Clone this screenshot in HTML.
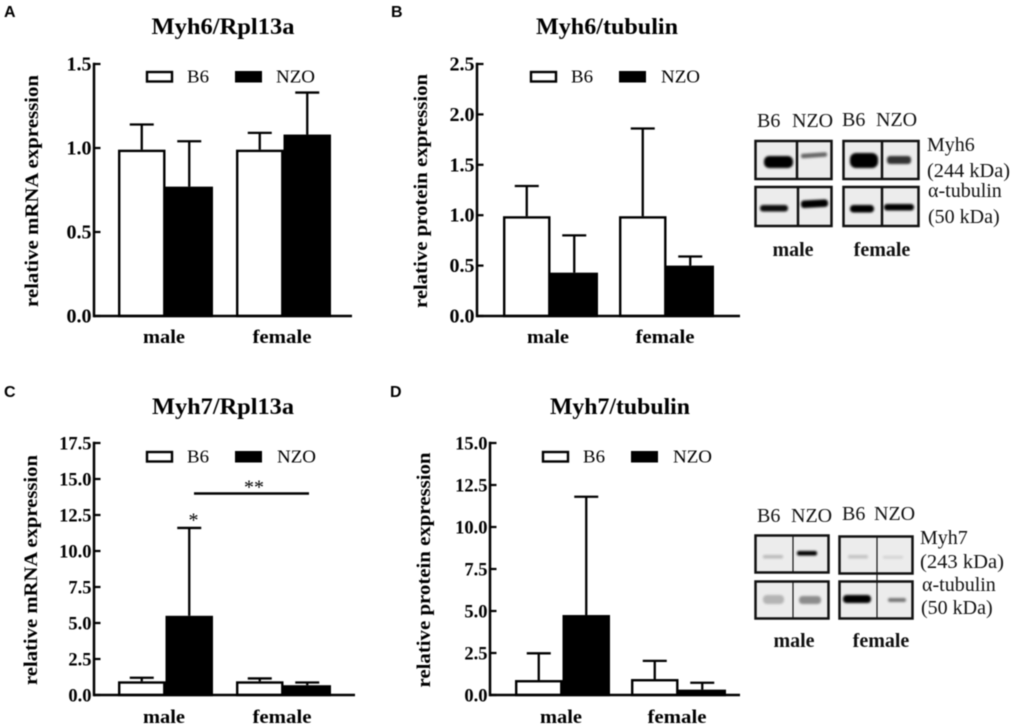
<!DOCTYPE html>
<html lang="en">
<head>
<meta charset="utf-8">
<title>Myh6 and Myh7 expression</title>
<style>
html,body{margin:0;padding:0;background:#fff;width:1015px;height:728px;overflow:hidden}
#figure{display:block;filter:blur(0.4px)}
text{font-family:"Liberation Serif",serif;fill:#000}
.b{font-weight:bold}
.letter{font-family:"Liberation Sans",sans-serif;font-weight:bold;font-size:16px}
.blot-t{font-size:20px;fill:#111}
</style>
</head>
<body>
<svg id="figure" xmlns="http://www.w3.org/2000/svg" width="1015" height="728" viewBox="0 0 1015 728">
<defs>
<filter id="bl1" x="-40%" y="-100%" width="180%" height="300%"><feGaussianBlur stdDeviation="1.1"/></filter>
</defs>
<rect x="0" y="0" width="1015" height="728" fill="#fff"/>
<g id="charts"></g>

<g>
<rect x="755.5" y="141" width="76" height="38" fill="#ececec" stroke="#111" stroke-width="2.5"/>
<rect x="843.5" y="141" width="75" height="38" fill="#ececec" stroke="#111" stroke-width="2.5"/>
<rect x="755.5" y="187" width="76" height="39" fill="#ececec" stroke="#111" stroke-width="2.5"/>
<rect x="843.5" y="187" width="75" height="39" fill="#ececec" stroke="#111" stroke-width="2.5"/>
<g filter="url(#bl1)">
<rect x="764" y="156" width="29" height="12" rx="5" fill="#000"/>
<rect x="801" y="153" width="26" height="4.5" rx="2" fill="#666" transform="rotate(-4 814 155)"/>
<rect x="850" y="153" width="28" height="15" rx="6" fill="#000"/>
<rect x="887" y="156" width="24" height="8" rx="3" fill="#333"/>
<rect x="760" y="205" width="28" height="6.5" rx="3" fill="#111"/>
<rect x="801" y="200" width="27" height="7.5" rx="3" fill="#000" transform="rotate(-3 814 204)"/>
<rect x="850" y="205" width="24" height="7.5" rx="3.5" fill="#000"/>
<rect x="884" y="204" width="30" height="6.5" rx="3" fill="#000"/>
</g>
<line x1="797" y1="141" x2="797" y2="179" stroke="#111" stroke-width="2.5"/>
<line x1="882" y1="141" x2="882" y2="179" stroke="#111" stroke-width="2.5"/>
<line x1="798" y1="187" x2="798" y2="226" stroke="#111" stroke-width="2.5"/>
<line x1="882" y1="187" x2="882" y2="226" stroke="#111" stroke-width="2.5"/>
<text class="blot-t" x="757" y="127">B6</text>
<text class="blot-t" x="792" y="127">NZO</text>
<text class="blot-t" x="842" y="126">B6</text>
<text class="blot-t" x="876" y="126">NZO</text>
<text class="blot-t" x="927" y="151">Myh6</text>
<text class="blot-t" x="927" y="177" textLength="83" lengthAdjust="spacingAndGlyphs">(244 kDa)</text>
<text class="blot-t" x="928" y="197">α-tubulin</text>
<text class="blot-t" x="928" y="223">(50 kDa)</text>
<text class="blot-t b" x="793" y="256" text-anchor="middle">male</text>
<text class="blot-t b" x="882" y="256" text-anchor="middle">female</text>
</g>

<g>
<rect x="755.5" y="535.5" width="73" height="37" fill="#ececec" stroke="#111" stroke-width="2.5"/>
<rect x="839.5" y="536.5" width="73" height="37" fill="#ececec" stroke="#111" stroke-width="2.5"/>
<rect x="755.5" y="581.5" width="73" height="37" fill="#ececec" stroke="#111" stroke-width="2.5"/>
<rect x="839.5" y="581.5" width="73" height="37" fill="#ececec" stroke="#111" stroke-width="2.5"/>
<g filter="url(#bl1)">
<rect x="763" y="555" width="20" height="3.5" rx="1.5" fill="#bbb"/>
<rect x="797" y="551" width="20" height="4.5" rx="2" fill="#000"/>
<rect x="848" y="555" width="20" height="3.5" rx="1.5" fill="#c4c4c4"/>
<rect x="883" y="556" width="20" height="2.5" rx="1" fill="#d0d0d0"/>
<rect x="763" y="595" width="21" height="9" rx="4" fill="#b4b4b4"/>
<rect x="799" y="596" width="22" height="8" rx="3.5" fill="#8c8c8c"/>
<rect x="843" y="595" width="28" height="8" rx="3.5" fill="#000"/>
<rect x="888" y="598" width="18" height="4" rx="2" fill="#777"/>
</g>
<line x1="793" y1="536" x2="793" y2="572" stroke="#111" stroke-width="1.2"/>
<line x1="877" y1="537" x2="877" y2="581" stroke="#111" stroke-width="1.2"/>
<line x1="793" y1="582" x2="793" y2="618" stroke="#111" stroke-width="1.2"/>
<line x1="877" y1="582" x2="877" y2="618" stroke="#111" stroke-width="1.2"/>
<text class="blot-t" x="757" y="522">B6</text>
<text class="blot-t" x="791" y="522">NZO</text>
<text class="blot-t" x="842" y="520">B6</text>
<text class="blot-t" x="874" y="520">NZO</text>
<text class="blot-t" x="920" y="544">Myh7</text>
<text class="blot-t" x="920" y="568" textLength="84" lengthAdjust="spacingAndGlyphs">(243 kDa)</text>
<text class="blot-t" x="922" y="591">α-tubulin</text>
<text class="blot-t" x="921" y="614">(50 kDa)</text>
<text class="blot-t b" x="794" y="647" text-anchor="middle">male</text>
<text class="blot-t b" x="881" y="647" text-anchor="middle">female</text>
</g>
</svg>
<script>
// Chart data
const groups = ['male', 'female'];
const seriesNames = ['B6', 'NZO'];

const ticksA = [0, 0.5, 1.0, 1.5];
const b6A = [0.99, 0.99];
const nzoA = [0.77, 1.08];
const b6ErrTopA = [1.14, 1.09];
const nzoErrTopA = [1.04, 1.33];

const ticksB = [0, 0.5, 1.0, 1.5, 2.0, 2.5];
const b6B = [0.99, 0.99];
const nzoB = [0.43, 0.5];
const b6ErrTopB = [1.29, 1.86];
const nzoErrTopB = [0.8, 0.59];

const ticksC = [0, 2.5, 5.0, 7.5, 10.0, 12.5, 15.0, 17.5];
const b6C = [0.95, 0.95];
const nzoC = [5.5, 0.68];
const b6ErrTopC = [1.2, 1.15];
const nzoErrTopC = [11.6, 0.87];

const ticksD = [0, 2.5, 5.0, 7.5, 10.0, 12.5, 15.0];
const b6D = [0.89, 0.95];
const nzoD = [4.76, 0.32];
const b6ErrTopD = [2.48, 2.03];
const nzoErrTopD = [11.8, 0.73];

const NS = 'http://www.w3.org/2000/svg';
const root = document.getElementById('charts');

function make(parent, tag, attrs, txt) {
  const el = document.createElementNS(NS, tag);
  for (const k in attrs) el.setAttribute(k, attrs[k]);
  if (txt !== undefined) el.textContent = txt;
  parent.appendChild(el);
  return el;
}

function drawPanel(p) {
  const g = make(root, 'g', {});
  
  

  const maxV = p.ticks[p.ticks.length - 1];
  const yOf = v => p.bottom - (v / maxV) * (p.bottom - p.top);
  const barWidth = 47.5;
  const sw = 2.4;
  const xOf = (gi, si) => p.x0 + gi * p.step + si * barWidth;

  const letter = make(g, 'text', {class: 'letter', x: p.letterX, y: p.letterY}, p.id.toUpperCase());
  
  

  const title = make(g, 'text', {class: 'b', x: p.titleX, y: p.titleY, 'text-anchor': 'middle', 'font-size': 23,
    textLength: p.titleLen, lengthAdjust: 'spacingAndGlyphs'}, p.title);
  
  

  const yt = make(g, 'text', {class: 'b', 'font-size': 18.5, 'text-anchor': 'middle',
    transform: 'translate(' + p.yTitleX + ',' + p.yTitleY + ') rotate(-90)',
    textLength: p.yTitleLen, lengthAdjust: 'spacingAndGlyphs'}, p.yTitle);
  
  

  // bars + error bars
  [p.b6, p.nzo].forEach((vals, si) => {
    const errs = si === 0 ? p.b6Err : p.nzoErr;
    vals.forEach((v, gi) => {
      const x = xOf(gi, si);
      const cx = x + barWidth / 2;
      const stem = make(g, 'line', {x1: cx, x2: cx, y1: yOf(v), y2: yOf(errs[gi]), stroke: '#000', 'stroke-width': 2.3});
      
      
      const cap = make(g, 'line', {x1: cx - 12, x2: cx + 12, y1: yOf(errs[gi]), y2: yOf(errs[gi]), stroke: '#000', 'stroke-width': 2.3});
      
      
      const bar = make(g, 'rect', {x: x + sw / 2, y: yOf(v) + sw / 2, width: barWidth - sw, height: Math.max(p.bottom - yOf(v) - sw / 2, 0),
        fill: si === 0 ? '#fff' : '#000', stroke: '#000', 'stroke-width': sw});
      
      
    });
  });

  // axes
  const ya = make(g, 'line', {x1: p.axisX, x2: p.axisX, y1: p.top - 1.2, y2: p.bottom + 1.2, stroke: '#000', 'stroke-width': 2.5});
  
  
  const xa = make(g, 'line', {x1: p.axisX, x2: p.axisEnd, y1: p.bottom, y2: p.bottom, stroke: '#000', 'stroke-width': 2.5});
  
  

  p.ticks.forEach(t => {
    const ty = yOf(t);
    const tk = make(g, 'line', {x1: p.axisX, x2: p.axisX + 6.5, y1: ty, y2: ty, stroke: '#000', 'stroke-width': 2.2});
    
    
    const lb = make(g, 'text', {class: 'b', x: p.axisX - 2.5, y: ty + 6.5, 'text-anchor': 'end', 'font-size': p.tickFont}, t.toFixed(1));
    
    
  });

  groups.forEach((name, gi) => {
    const c = make(g, 'text', {class: 'b', x: p.catX[gi], y: p.catY, 'text-anchor': 'middle', 'font-size': 19,
      textLength: gi === 0 ? 42 : 59, lengthAdjust: 'spacingAndGlyphs'}, name);
    
    
  });

  // legend
  const sw1 = make(g, 'rect', {x: p.leg[0] + 1, y: p.legY + 1, width: 25, height: 9.5, fill: '#fff', stroke: '#000', 'stroke-width': 2.4});
  
  
  const lt1 = make(g, 'text', {x: p.leg[1], y: p.legY + 11.5, 'font-size': 18, fill: '#111', textLength: 22, lengthAdjust: 'spacingAndGlyphs'}, seriesNames[0]);
  
  
  const sw2 = make(g, 'rect', {x: p.leg[2], y: p.legY, width: 27, height: 11.5, fill: '#000'});
  
  
  const lt2 = make(g, 'text', {x: p.leg[3], y: p.legY + 11.5, 'font-size': 18, fill: '#111', textLength: 39, lengthAdjust: 'spacingAndGlyphs'}, seriesNames[1]);
  
  
  return g;
}

drawPanel({id: 'a', title: 'Myh6/Rpl13a', yTitle: 'relative mRNA expression', ticks: ticksA,
  b6: b6A, nzo: nzoA, b6Err: b6ErrTopA, nzoErr: nzoErrTopA, tickFont: 20, titleLen: 143,
  axisX: 94, axisEnd: 352, top: 64, bottom: 316, x0: 118, step: 118,
  letterX: 4, letterY: 17, titleX: 223, titleY: 34, yTitleX: 38, yTitleY: 191, yTitleLen: 232,
  catX: [164, 282], catY: 343, leg: [146, 187, 235, 276], legY: 71});

drawPanel({id: 'b', title: 'Myh6/tubulin', yTitle: 'relative protein expression', ticks: ticksB,
  b6: b6B, nzo: nzoB, b6Err: b6ErrTopB, nzoErr: nzoErrTopB, tickFont: 20, titleLen: 142,
  axisX: 477, axisEnd: 740, top: 64, bottom: 316, x0: 503, step: 116,
  letterX: 391, letterY: 17, titleX: 607, titleY: 34, yTitleX: 427, yTitleY: 191, yTitleLen: 234,
  catX: [548, 665], catY: 343, leg: [530, 571, 619, 661], legY: 71});

const panelC = drawPanel({id: 'c', title: 'Myh7/Rpl13a', yTitle: 'relative mRNA expression', ticks: ticksC,
  b6: b6C, nzo: nzoC, b6Err: b6ErrTopC, nzoErr: nzoErrTopC, tickFont: 18.5, titleLen: 142,
  axisX: 94, axisEnd: 355, top: 443, bottom: 695, x0: 118, step: 118,
  letterX: 4, letterY: 397, titleX: 223, titleY: 414, yTitleX: 37, yTitleY: 570, yTitleLen: 230,
  catX: [164, 282], catY: 723, leg: [146, 187, 235, 277], legY: 451});

drawPanel({id: 'd', title: 'Myh7/tubulin', yTitle: 'relative protein expression', ticks: ticksD,
  b6: b6D, nzo: nzoD, b6Err: b6ErrTopD, nzoErr: nzoErrTopD, tickFont: 18.5, titleLen: 140,
  axisX: 490, axisEnd: 740, top: 443, bottom: 695, x0: 515, step: 116,
  letterX: 390, letterY: 397, titleX: 620, titleY: 414, yTitleX: 430, yTitleY: 570, yTitleLen: 235,
  catX: [561, 677], catY: 723, leg: [542, 583, 631, 673], legY: 451});

const sigLine = make(panelC, 'line', {x1: 194, x2: 309, y1: 493.5, y2: 493.5, stroke: '#000', 'stroke-width': 2.4});


const sigDouble = make(panelC, 'text', {x: 254, y: 493.5, 'text-anchor': 'middle', 'font-size': 20, fill: '#222'}, '**');


const sigSingle = make(panelC, 'text', {x: 193.5, y: 526.5, 'text-anchor': 'middle', 'font-size': 20, fill: '#222'}, '*');


</script>
</body>
</html>
